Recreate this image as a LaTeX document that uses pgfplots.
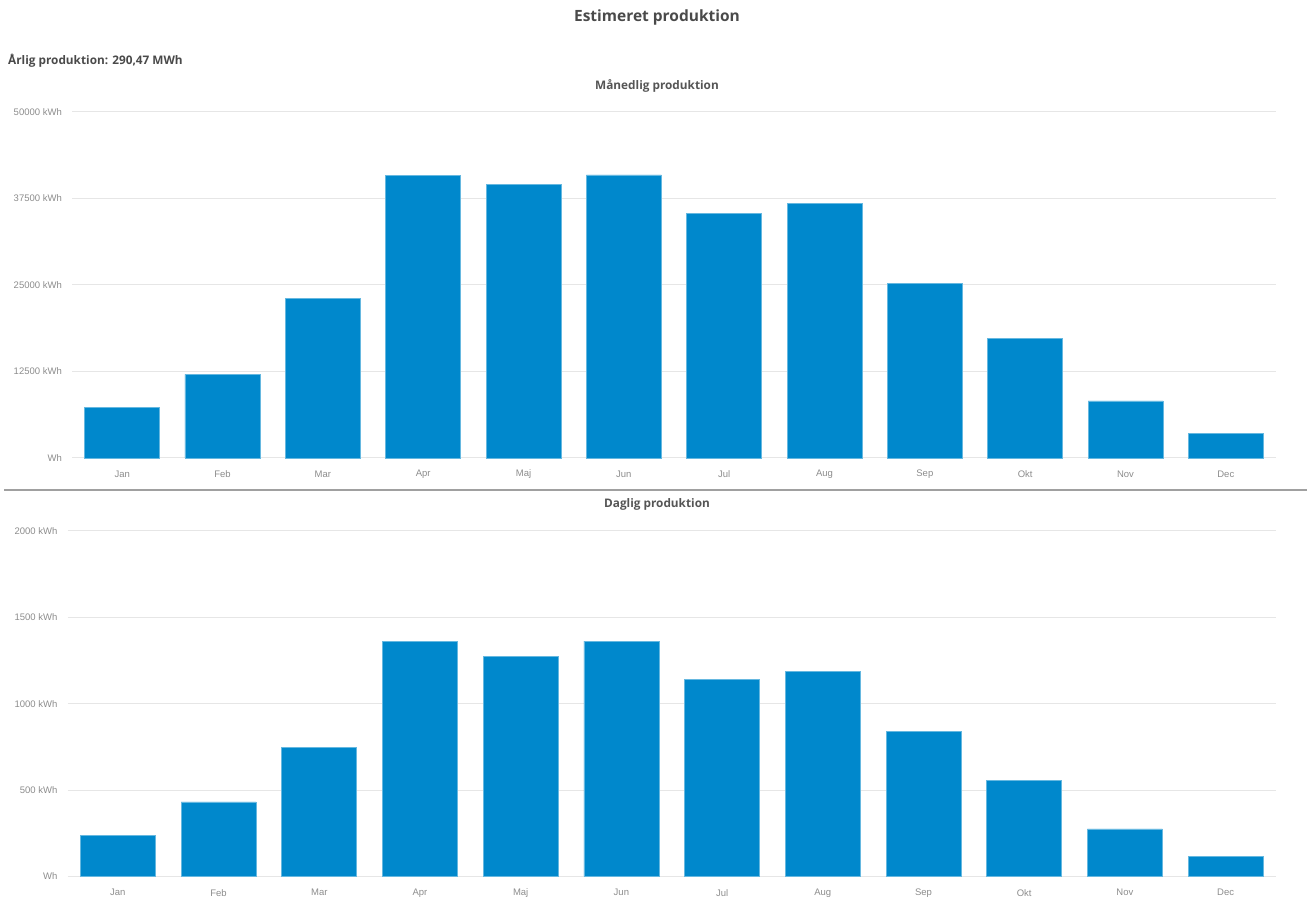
\documentclass[border=0pt]{standalone}
\usepackage{fontspec}
\usepackage{pgfplots}
\pgfplotsset{compat=1.18}
\setmainfont{Liberation Sans}
\newfontfamily\headfont{Open Sans}

\definecolor{barblue}{HTML}{0088CC}
\definecolor{gridgray}{HTML}{E6E6E6}
\definecolor{ticktext}{HTML}{8C8C8C}
\definecolor{titletext}{HTML}{4A4A4A}
\definecolor{subtext}{HTML}{555555}
\definecolor{sepgray}{HTML}{A0A0A0}

% Monthly and daily production (kWh)
\pgfplotstableread{
idx month  kwh
0   Jan    7330
1   Feb    12100
2   Mar    23080
3   Apr    40880
4   Maj    39560
5   Jun    40900
6   Jul    35310
7   Aug    36810
8   Sep    25250
9   Okt    17250
10  Nov    8250
11  Dec    3580
}\monthly

\pgfplotstableread{
idx month  kwh
0   Jan    236
1   Feb    432
2   Mar    745
3   Apr    1363
4   Maj    1276
5   Jun    1363
6   Jul    1139
7   Aug    1187
8   Sep    842
9   Okt    556
10  Nov    275
11  Dec    115
}\daily

\pgfplotsset{
  prodaxis/.style={
    scale only axis,
    ybar, bar shift=0pt,
    xmin=-0.5, xmax=11.5, ymin=0,
    xtick={0,...,11},
    xticklabels={Jan,Feb,Mar,Apr,Maj,Jun,Jul,Aug,Sep,Okt,Nov,Dec},
    scaled y ticks=false,
    axis line style={draw=none},
    major tick style={draw=none},
    ymajorgrids, grid style={gridgray, line width=1pt},
    xticklabel style={anchor=center, yshift=-12pt, inner sep=0pt,
      font=\fontsize{9.5}{11}\selectfont, text=ticktext},
    yticklabel style={anchor=east, xshift=-10pt, inner sep=0pt,
      font=\fontsize{9.5}{11}\selectfont, text=ticktext},
    clip=false,
  },
  prodbars/.style={fill=barblue, draw=barblue!60!white, line width=0.6pt},
}

\begin{document}
\begin{tikzpicture}[x=1pt, y=1pt]
\path[use as bounding box] (0,0) rectangle (1307,897);

% titles
\node[font=\fontsize{15.5}{18}\selectfont\headfont\bfseries, text=titletext] at (657,880) {Estimeret produktion};
\node[anchor=west, inner sep=0pt, font=\fontsize{11.8}{14}\selectfont\headfont\bfseries, text=titletext] at (8,836) {Årlig produktion: 290,47 MWh};
\node[font=\fontsize{11.8}{14}\selectfont\headfont\bfseries, text=subtext] at (657,811) {Månedlig produktion};
\node[font=\fontsize{11.8}{14}\selectfont\headfont\bfseries, text=subtext] at (657,393) {Daglig produktion};

% separator between the two charts
\draw[sepgray, line width=1.2pt] (4,407) -- (1307,407);

\begin{axis}[prodaxis,
  at={(72pt,439pt)}, anchor=south west,
  width=1204pt, height=346pt,
  ymax=50000,
  ytick={0,12500,25000,37500,50000},
  yticklabels={Wh,12500 kWh,25000 kWh,37500 kWh,50000 kWh},
  bar width=75pt,
]
\addplot[prodbars] table[x=idx, y=kwh] {\monthly};
\end{axis}

\begin{axis}[prodaxis,
  at={(67.5pt,20.5pt)}, anchor=south west,
  width=1208.5pt, height=345.5pt,
  ymax=2000,
  ytick={0,500,1000,1500,2000},
  yticklabels={Wh,500 kWh,1000 kWh,1500 kWh,2000 kWh},
  bar width=75pt,
]
\addplot[prodbars] table[x=idx, y=kwh] {\daily};
\end{axis}
\end{tikzpicture}
\end{document}
